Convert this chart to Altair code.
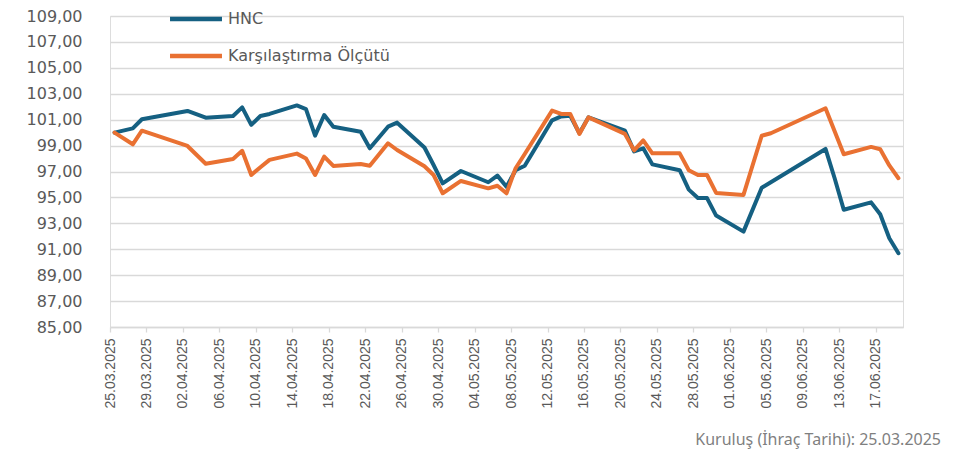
import altair as alt
import pandas as pd

# ---- data ----
dates = [
    "25.03.2025", "27.03.2025", "28.03.2025", "02.04.2025", "04.04.2025",
    "07.04.2025", "08.04.2025", "09.04.2025", "10.04.2025", "11.04.2025",
    "14.04.2025", "15.04.2025", "16.04.2025", "17.04.2025", "18.04.2025",
    "21.04.2025", "22.04.2025", "24.04.2025", "25.04.2025", "28.04.2025",
    "29.04.2025", "30.04.2025", "02.05.2025", "05.05.2025", "06.05.2025",
    "07.05.2025", "08.05.2025", "09.05.2025", "12.05.2025", "13.05.2025",
    "14.05.2025", "15.05.2025", "16.05.2025", "20.05.2025", "21.05.2025",
    "22.05.2025", "23.05.2025", "26.05.2025", "27.05.2025", "28.05.2025",
    "29.05.2025", "30.05.2025", "02.06.2025", "04.06.2025", "05.06.2025",
    "11.06.2025", "12.06.2025", "13.06.2025", "16.06.2025", "17.06.2025",
    "18.06.2025", "19.06.2025",
]
hnc = [
    100.00, 100.33, 101.03, 101.67, 101.15,
    101.28, 101.95, 100.60, 101.28, 101.44,
    102.10, 101.82, 99.77, 101.36, 100.46,
    100.07, 98.79, 100.46, 100.77, 98.85,
    97.50, 96.09, 97.04, 96.17, 96.68,
    95.83, 97.10, 97.45, 100.95, 101.25,
    101.30, 99.95, 101.18, 100.15, 98.55,
    98.79, 97.55, 97.10, 95.60, 94.95,
    94.95, 93.60, 92.36, 95.75, 96.17,
    98.74, 96.48, 94.05, 94.62, 93.70,
    91.85, 90.69,
]
benchmark = [
    100.00, 99.10, 100.15, 98.97, 97.60,
    97.97, 98.60, 96.73, 97.33, 97.90,
    98.38, 98.00, 96.73, 98.15, 97.43,
    97.58, 97.45, 99.18, 98.66, 97.40,
    96.73, 95.32, 96.27, 95.70, 95.90,
    95.32, 97.25, 98.35, 101.70, 101.44,
    101.44, 99.90, 101.18, 99.90, 98.63,
    99.40, 98.40, 98.40, 97.10, 96.73,
    96.73, 95.35, 95.19, 99.76, 99.95,
    101.88, 100.10, 98.33, 98.90, 98.72,
    97.47, 96.48,
]
series_names = ["HNC", "Karşılaştırma Ölçütü"]
series_colors = ["#156082", "#E97132"]
x_tick_labels = [
    "25.03.2025", "29.03.2025", "02.04.2025", "06.04.2025", "10.04.2025",
    "14.04.2025", "18.04.2025", "22.04.2025", "26.04.2025", "30.04.2025",
    "04.05.2025", "08.05.2025", "12.05.2025", "16.05.2025", "20.05.2025",
    "24.05.2025", "28.05.2025", "01.06.2025", "05.06.2025", "09.06.2025",
    "13.06.2025", "17.06.2025",
]
y_ticks = [85, 87, 89, 91, 93, 95, 97, 99, 101, 103, 105, 107, 109]
footer = "Kuruluş (İhraç Tarihi): 25.03.2025"


def to_iso(s):
    d, m, y = s.split(".")
    return f"{y}-{m}-{d}T12:00:00"


def to_dt(s):
    d, m, y = s.split(".")
    return alt.DateTime(year=int(y), month=int(m), date=int(d))


rows = []
for name, vals in zip(series_names, [hnc, benchmark]):
    for d, v in zip(dates, vals):
        rows.append({"tarih": to_iso(d), "deger": v, "seri": name})
df = pd.DataFrame(rows)

x_enc = alt.X(
    "tarih:T",
    scale=alt.Scale(domain=[to_dt("25.03.2025"), to_dt("20.06.2025")], nice=False),
    axis=alt.Axis(
        title=None,
        values=[to_dt(s) for s in x_tick_labels],
        format="%d.%m.%Y",
        labelAngle=270,
        labelAlign="right",
        labelBaseline="middle",
        labelFont="Liberation Sans",
        labelFontSize=14,
        labelColor="#595959",
        labelPadding=6,
        labelOverlap=False,
        labelFlush=False,
        labelBound=False,
        grid=False,
        domainColor="#d9d9d9",
        domainWidth=1.5,
        tickColor="#d9d9d9",
        tickWidth=1.3,
        tickSize=5,
    ),
)
y_enc = alt.Y(
    "deger:Q",
    scale=alt.Scale(domain=[85, 109], nice=False, zero=False),
    axis=alt.Axis(
        title=None,
        values=y_ticks,
        labelExpr="replace(format(datum.value, '.2f'), '.', ',')",
        labelFont="DejaVu Sans",
        labelFontSize=16,
        labelColor="#595959",
        labelPadding=28,
        ticks=False,
        tickSize=0,
        domain=False,
        grid=True,
        gridColor="#d9d9d9",
        gridWidth=1.3,
    ),
)
color_enc = alt.Color(
    "seri:N",
    scale=alt.Scale(domain=series_names, range=series_colors),
    legend=alt.Legend(
        title=None,
        orient="none",
        legendX=78,
        legendY=-5,
        direction="vertical",
        symbolType="M-5,0H5",
        symbolSize=108,
        symbolStrokeWidth=4.5,
        rowPadding=19,
        padding=0,
        labelFont="DejaVu Sans",
        labelFontSize=16,
        labelColor="#595959",
        labelOffset=24,
        labelLimit=400,
    ),
)

base = alt.Chart(df).mark_line(strokeWidth=4, strokeJoin="round", strokeCap="round").encode(
    x=x_enc, y=y_enc, color=color_enc
)

layers = [base.transform_filter(alt.datum.seri == n) for n in series_names]

chart = (
    alt.layer(*layers)
    .properties(
        width=793,
        height=311,
        autosize="none",
        padding={"left": 102, "top": 8, "right": 40, "bottom": 122},
        title=alt.TitleParams(
            text=footer,
            orient="bottom",
            anchor="end",
            frame="group",
            dx=38,
            offset=24,
            font="Noto Sans",
            fontSize=16,
            fontWeight="normal",
            color="#7f7f7f",
        ),
    )
    .configure_view(stroke="transparent")
    .configure(background="white")
)

chart.save("out.html", embed_options={"renderer": "svg", "actions": False})
